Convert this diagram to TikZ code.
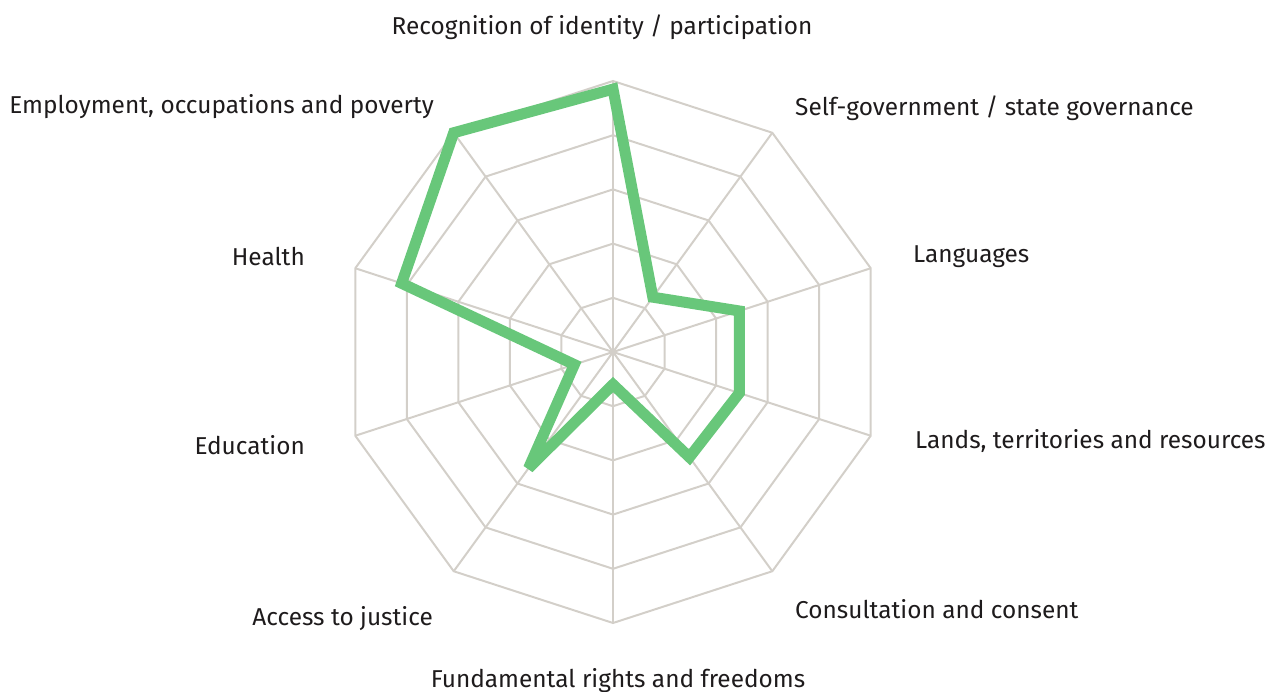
\documentclass[tikz,border=0pt]{standalone}
\usepackage{fontspec}
\setmainfont{Fira Sans}
\definecolor{gridgray}{HTML}{D3CFC9}
\definecolor{datagreen}{HTML}{68C77A}
\definecolor{labeltext}{HTML}{1E1B1C}
\begin{document}
\begin{tikzpicture}[x=1pt,y=1pt,
    grid/.style={gridgray,line width=2},
    lbl/.style={text=labeltext,font=\fontsize{24.4}{28}\selectfont,inner sep=0pt}]
    \useasboundingbox (0,0) rectangle (1269,691);

    \begin{scope}[shift={(613,339)}]
    % rings and spokes
    \foreach \r in {1,...,5}
        \draw[grid] (90:54.2*\r) \foreach \a in {1,...,9} {-- (90-36*\a:54.2*\r)} -- cycle;
    \foreach \a in {0,...,9}
        \draw[grid] (0,0) -- (90-36*\a:271);

    % data points
    \coordinate (p0) at (90:0.97*271);
    \coordinate (p1) at (54:0.25*271);
    \coordinate (p2) at (18:0.49*271);
    \coordinate (p3) at (-18:0.49*271);
    \coordinate (p4) at (-54:0.48*271);
    \coordinate (p5) at (-90:0.12*271);
    \coordinate (p6) at (-126:0.53*271);
    \coordinate (p7) at (-162:0.15*271);
    \coordinate (p8) at (162:0.82*271);
    \coordinate (p9) at (126:1.0*271);

    \draw[datagreen,line width=11,line join=miter,miter limit=2]
        (p0) -- (p1) -- (p2) -- (p3) -- (p4) -- (p5) -- (p6) -- (p7) -- (p8) -- (p9) -- cycle;
    \end{scope}

    % labels
    \node[lbl,anchor=base] (recog) at (602,656) {Recognition of identity / participation};
    \node[lbl,anchor=base west] (selfgov) at (795,575) {Self-government / state governance};
    \node[lbl,anchor=base west] (lang) at (913,428) {Languages};
    \node[lbl,anchor=base west] (lands) at (915,242) {Lands, territories and resources};
    \node[lbl,anchor=base west] (consult) at (795,73) {Consultation and consent};
    \node[lbl,anchor=base] (fund) at (618,4) {Fundamental rights and freedoms};
    \node[lbl,anchor=base east] (access) at (433,66) {Access to justice};
    \node[lbl,anchor=base east] (educ) at (305,236) {Education};
    \node[lbl,anchor=base east] (health) at (305,425) {Health};
    \node[lbl,anchor=base east] (employ) at (434,577) {Employment, occupations and poverty};

\end{tikzpicture}
\end{document}
